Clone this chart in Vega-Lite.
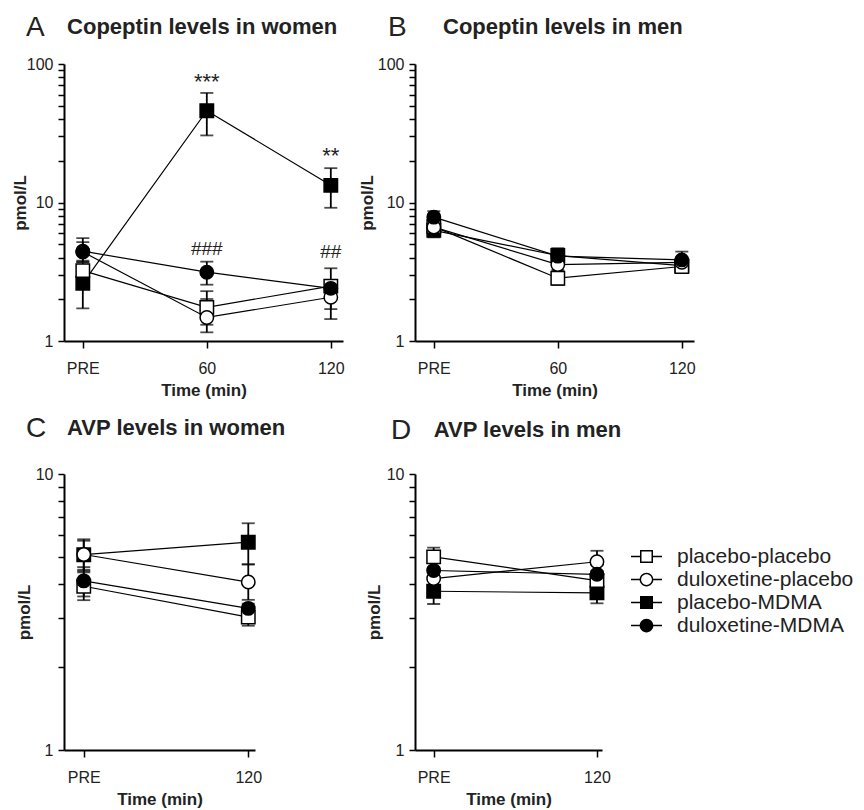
{
  "$schema": "https://vega.github.io/schema/vega-lite/v6.json",
  "background": "white",
  "padding": {"left": 11, "top": 14, "right": 5, "bottom": 5},
  "datasets": {
    "series": [
      {"panel": "A", "group": "placebo-MDMA", "time": 0, "value": 2.61, "lo": 1.72, "hi": 3.5},
      {"panel": "A", "group": "placebo-MDMA", "time": 60, "value": 46, "lo": 30.5, "hi": 61.8},
      {"panel": "A", "group": "placebo-MDMA", "time": 120, "value": 13.3, "lo": 9.16, "hi": 17.7},
      {"panel": "A", "group": "placebo-placebo", "time": 0, "value": 3.22, "lo": 2.8, "hi": 3.7},
      {"panel": "A", "group": "placebo-placebo", "time": 60, "value": 1.75, "lo": 1.31, "hi": 2.29},
      {"panel": "A", "group": "placebo-placebo", "time": 120, "value": 2.49, "lo": 1.7, "hi": 3.35},
      {"panel": "A", "group": "duloxetine-placebo", "time": 0, "value": 4.4, "lo": 3.8, "hi": 5.17},
      {"panel": "A", "group": "duloxetine-placebo", "time": 60, "value": 1.48, "lo": 1.155, "hi": 2.01},
      {"panel": "A", "group": "duloxetine-placebo", "time": 120, "value": 2.07, "lo": 1.44, "hi": 2.31},
      {"panel": "A", "group": "duloxetine-MDMA", "time": 0, "value": 4.45, "lo": 3.73, "hi": 5.53},
      {"panel": "A", "group": "duloxetine-MDMA", "time": 60, "value": 3.14, "lo": 2.55, "hi": 3.74},
      {"panel": "A", "group": "duloxetine-MDMA", "time": 120, "value": 2.4, "lo": 2.1, "hi": 2.75},
      {"panel": "B", "group": "placebo-MDMA", "time": 0, "value": 6.3, "lo": 5.6, "hi": 7.0},
      {"panel": "B", "group": "placebo-MDMA", "time": 60, "value": 4.14, "lo": 3.7, "hi": 4.68},
      {"panel": "B", "group": "placebo-MDMA", "time": 120, "value": 3.5, "lo": 3.22, "hi": 3.9},
      {"panel": "B", "group": "placebo-placebo", "time": 0, "value": 6.7, "lo": 6.1, "hi": 7.3},
      {"panel": "B", "group": "placebo-placebo", "time": 60, "value": 2.84, "lo": 2.54, "hi": 3.15},
      {"panel": "B", "group": "placebo-placebo", "time": 120, "value": 3.45, "lo": 3.2, "hi": 3.75},
      {"panel": "B", "group": "duloxetine-placebo", "time": 0, "value": 6.64, "lo": 6.0, "hi": 7.3},
      {"panel": "B", "group": "duloxetine-placebo", "time": 60, "value": 3.56, "lo": 3.25, "hi": 3.9},
      {"panel": "B", "group": "duloxetine-placebo", "time": 120, "value": 3.7, "lo": 3.4, "hi": 4.0},
      {"panel": "B", "group": "duloxetine-MDMA", "time": 0, "value": 7.84, "lo": 7.1, "hi": 8.66},
      {"panel": "B", "group": "duloxetine-MDMA", "time": 60, "value": 4.1, "lo": 3.75, "hi": 4.5},
      {"panel": "B", "group": "duloxetine-MDMA", "time": 120, "value": 3.85, "lo": 3.5, "hi": 4.42},
      {"panel": "C", "group": "placebo-MDMA", "time": 0, "value": 5.1, "lo": 4.45, "hi": 5.8},
      {"panel": "C", "group": "placebo-MDMA", "time": 120, "value": 5.66, "lo": 4.71, "hi": 6.63},
      {"panel": "C", "group": "placebo-placebo", "time": 0, "value": 3.92, "lo": 3.49, "hi": 4.4},
      {"panel": "C", "group": "placebo-placebo", "time": 120, "value": 3.03, "lo": 2.82, "hi": 3.26},
      {"panel": "C", "group": "duloxetine-placebo", "time": 0, "value": 5.11, "lo": 4.5, "hi": 5.73},
      {"panel": "C", "group": "duloxetine-placebo", "time": 120, "value": 4.06, "lo": 3.5, "hi": 4.7},
      {"panel": "C", "group": "duloxetine-MDMA", "time": 0, "value": 4.1, "lo": 3.6, "hi": 4.6},
      {"panel": "C", "group": "duloxetine-MDMA", "time": 120, "value": 3.26, "lo": 3.0, "hi": 3.39},
      {"panel": "D", "group": "placebo-MDMA", "time": 0, "value": 3.76, "lo": 3.38, "hi": 4.15},
      {"panel": "D", "group": "placebo-MDMA", "time": 120, "value": 3.71, "lo": 3.4, "hi": 4.05},
      {"panel": "D", "group": "placebo-placebo", "time": 0, "value": 5.01, "lo": 4.6, "hi": 5.41},
      {"panel": "D", "group": "placebo-placebo", "time": 120, "value": 4.11, "lo": 3.8, "hi": 4.45},
      {"panel": "D", "group": "duloxetine-placebo", "time": 0, "value": 4.18, "lo": 3.9, "hi": 4.5},
      {"panel": "D", "group": "duloxetine-placebo", "time": 120, "value": 4.81, "lo": 4.4, "hi": 5.27},
      {"panel": "D", "group": "duloxetine-MDMA", "time": 0, "value": 4.47, "lo": 4.1, "hi": 4.85},
      {"panel": "D", "group": "duloxetine-MDMA", "time": 120, "value": 4.33, "lo": 4.0, "hi": 4.7}
    ],
    "annot": [
      {"panel": "A", "time": 60, "value": 73.9, "label": "***", "kind": "star"},
      {"panel": "A", "time": 120, "value": 21.7, "label": "**", "kind": "star"},
      {"panel": "A", "time": 60, "value": 4.62, "label": "###", "kind": "hash"},
      {"panel": "A", "time": 120, "value": 4.36, "label": "##", "kind": "hash"}
    ]
  },
  "columns": 2,
  "align": "all",
  "bounds": "flush",
  "spacing": {"row": 133, "column": 72},
  "concat": [
    {
      "width": 279, "height": 277,
      "title": {"text": "A", "subtitle": "\u200b\u00a0\u00a0\u00a0\u00a0\u00a0\u00a0\u2009Copeptin levels in women", "anchor": "start", "frame": "group", "dx": -38, "offset": 14, "fontSize": 28, "fontWeight": "normal", "font": "Liberation Sans", "color": "#222", "subtitleFont": "Liberation Sans", "subtitleFontSize": 22, "subtitleFontWeight": "bold", "subtitleColor": "#222", "subtitlePadding": -25},
      "data": {"name": "series"},
      "transform": [{"filter": "datum.panel === 'A'"}],
      "encoding": {
        "x": {"field": "time", "type": "quantitative", "scale": {"domain": [-9.1, 125.9], "nice": false, "zero": false}, "axis": {"values": [0, 60, 120], "labelExpr": "datum.value === 0 ? 'PRE' : datum.label", "title": "Time (min)"}},
        "y": {"field": "value", "type": "quantitative", "scale": {"type": "log", "domain": [1, 100], "nice": false}, "axis": {"values": [1, 2, 3, 4, 5, 6, 7, 8, 9, 10, 20, 30, 40, 50, 60, 70, 80, 90, 100], "format": "d", "labelExpr": "(datum.value === 1 || datum.value === 10 || datum.value === 100) ? datum.label : ''", "title": "pmol/L", "titlePadding": -3}}
      },
      "layer": [
        {"mark": {"type": "line", "color": "black", "strokeWidth": 1.2}, "encoding": {"detail": {"field": "group"}}},
        {"mark": {"type": "rule", "color": "black", "strokeWidth": 1.8}, "encoding": {"y": {"field": "lo", "type": "quantitative", "scale": {"type": "log", "domain": [1, 100], "nice": false}, "axis": {"values": [1, 2, 3, 4, 5, 6, 7, 8, 9, 10, 20, 30, 40, 50, 60, 70, 80, 90, 100], "format": "d", "labelExpr": "(datum.value === 1 || datum.value === 10 || datum.value === 100) ? datum.label : ''", "title": "pmol/L", "titlePadding": -3}}, "y2": {"field": "hi"}}},
        {"mark": {"type": "tick", "orient": "horizontal", "color": "black", "size": 13, "thickness": 1.8}, "encoding": {"y": {"field": "lo", "type": "quantitative", "scale": {"type": "log", "domain": [1, 100], "nice": false}, "axis": {"values": [1, 2, 3, 4, 5, 6, 7, 8, 9, 10, 20, 30, 40, 50, 60, 70, 80, 90, 100], "format": "d", "labelExpr": "(datum.value === 1 || datum.value === 10 || datum.value === 100) ? datum.label : ''", "title": "pmol/L", "titlePadding": -3}}}},
        {"mark": {"type": "tick", "orient": "horizontal", "color": "black", "size": 13, "thickness": 1.8}, "encoding": {"y": {"field": "hi", "type": "quantitative", "scale": {"type": "log", "domain": [1, 100], "nice": false}, "axis": {"values": [1, 2, 3, 4, 5, 6, 7, 8, 9, 10, 20, 30, 40, 50, 60, 70, 80, 90, 100], "format": "d", "labelExpr": "(datum.value === 1 || datum.value === 10 || datum.value === 100) ? datum.label : ''", "title": "pmol/L", "titlePadding": -3}}}},
        {"transform": [{"filter": "indexof(datum.group, 'placebo-') === 0"}], "mark": {"type": "point", "shape": "square", "filled": true, "size": 180, "stroke": "black", "strokeWidth": 1.5, "opacity": 1}, "encoding": {"fill": {"condition": {"test": "indexof(datum.group, 'MDMA') > 0", "value": "black"}, "value": "white"}}},
        {"transform": [{"filter": "indexof(datum.group, 'duloxetine-') === 0"}], "mark": {"type": "point", "shape": "circle", "filled": true, "size": 180, "stroke": "black", "strokeWidth": 1.5, "opacity": 1}, "encoding": {"fill": {"condition": {"test": "indexof(datum.group, 'MDMA') > 0", "value": "black"}, "value": "white"}}},
        {"mark": {"type": "point", "filled": true, "color": "black", "size": 180, "opacity": 0},
         "encoding": {
           "shape": {"field": "group", "type": "nominal", "scale": {"domain": ["placebo-placebo", "duloxetine-placebo", "placebo-MDMA", "duloxetine-MDMA"], "range": [
             "M-1.24,-0.06H-0.52V0.06H-1.24ZM0.52,-0.06H1.24V0.06H0.52ZM-0.52,-0.52H0.52V0.52H-0.52ZM-0.4,-0.4V0.4H0.4V-0.4Z",
             "M-1.24,-0.06H-0.55V0.06H-1.24ZM0.55,-0.06H1.24V0.06H0.55ZM0.55,0A0.55,0.55,0,1,1,-0.55,0A0.55,0.55,0,1,1,0.55,0ZM0.43,0A0.43,0.43,0,1,0,-0.43,0A0.43,0.43,0,1,0,0.43,0Z",
             "M-1.24,-0.06H-0.52V0.06H-1.24ZM0.52,-0.06H1.24V0.06H0.52ZM-0.52,-0.52H0.52V0.52H-0.52Z",
             "M-1.24,-0.06H-0.55V0.06H-1.24ZM0.55,-0.06H1.24V0.06H0.55ZM0.55,0A0.55,0.55,0,1,1,-0.55,0A0.55,0.55,0,1,1,0.55,0Z"]},
             "legend": {"title": null, "orient": "none", "legendX": 570, "legendY": 480, "symbolSize": 625, "symbolStrokeWidth": 0, "symbolFillColor": "black", "symbolOpacity": 1, "labelFontSize": 21, "labelFont": "Liberation Sans", "labelColor": "#222", "labelOffset": 18, "rowPadding": 0, "padding": 0, "labelLimit": 400}}
         }},
        {"data": {"name": "annot"}, "transform": [{"filter": "datum.panel === 'A' && datum.kind === 'star'"}], "mark": {"type": "text", "font": "Liberation Sans", "fontSize": 22, "color": "#222", "baseline": "middle"}, "encoding": {"text": {"field": "label"}}},
        {"data": {"name": "annot"}, "transform": [{"filter": "datum.panel === 'A' && datum.kind === 'hash'"}], "mark": {"type": "text", "font": "Liberation Sans", "fontSize": 19, "color": "#222", "baseline": "middle"}, "encoding": {"text": {"field": "label"}}}
      ]
    },
    {
      "width": 279, "height": 277,
      "title": {"text": "B", "subtitle": "\u200b\u00a0\u00a0\u00a0\u00a0\u00a0\u00a0\u00a0\u00a0\u00a0Copeptin levels in men", "anchor": "start", "frame": "group", "dx": -27, "offset": 14, "fontSize": 28, "fontWeight": "normal", "font": "Liberation Sans", "color": "#222", "subtitleFont": "Liberation Sans", "subtitleFontSize": 22, "subtitleFontWeight": "bold", "subtitleColor": "#222", "subtitlePadding": -25},
      "data": {"name": "series"},
      "transform": [{"filter": "datum.panel === 'B'"}],
      "encoding": {
        "x": {"field": "time", "type": "quantitative", "scale": {"domain": [-9.1, 125.9], "nice": false, "zero": false}, "axis": {"values": [0, 60, 120], "labelExpr": "datum.value === 0 ? 'PRE' : datum.label", "title": "Time (min)"}},
        "y": {"field": "value", "type": "quantitative", "scale": {"type": "log", "domain": [1, 100], "nice": false}, "axis": {"values": [1, 2, 3, 4, 5, 6, 7, 8, 9, 10, 20, 30, 40, 50, 60, 70, 80, 90, 100], "format": "d", "labelExpr": "(datum.value === 1 || datum.value === 10 || datum.value === 100) ? datum.label : ''", "title": "pmol/L", "titlePadding": 1}}
      },
      "layer": [
        {"mark": {"type": "line", "color": "black", "strokeWidth": 1.2}, "encoding": {"detail": {"field": "group"}}},
        {"mark": {"type": "rule", "color": "black", "strokeWidth": 1.8}, "encoding": {"y": {"field": "lo", "type": "quantitative", "scale": {"type": "log", "domain": [1, 100], "nice": false}, "axis": {"values": [1, 2, 3, 4, 5, 6, 7, 8, 9, 10, 20, 30, 40, 50, 60, 70, 80, 90, 100], "format": "d", "labelExpr": "(datum.value === 1 || datum.value === 10 || datum.value === 100) ? datum.label : ''", "title": "pmol/L", "titlePadding": 1}}, "y2": {"field": "hi"}}},
        {"mark": {"type": "tick", "orient": "horizontal", "color": "black", "size": 13, "thickness": 1.8}, "encoding": {"y": {"field": "lo", "type": "quantitative", "scale": {"type": "log", "domain": [1, 100], "nice": false}, "axis": {"values": [1, 2, 3, 4, 5, 6, 7, 8, 9, 10, 20, 30, 40, 50, 60, 70, 80, 90, 100], "format": "d", "labelExpr": "(datum.value === 1 || datum.value === 10 || datum.value === 100) ? datum.label : ''", "title": "pmol/L", "titlePadding": 1}}}},
        {"mark": {"type": "tick", "orient": "horizontal", "color": "black", "size": 13, "thickness": 1.8}, "encoding": {"y": {"field": "hi", "type": "quantitative", "scale": {"type": "log", "domain": [1, 100], "nice": false}, "axis": {"values": [1, 2, 3, 4, 5, 6, 7, 8, 9, 10, 20, 30, 40, 50, 60, 70, 80, 90, 100], "format": "d", "labelExpr": "(datum.value === 1 || datum.value === 10 || datum.value === 100) ? datum.label : ''", "title": "pmol/L", "titlePadding": 1}}}},
        {"transform": [{"filter": "indexof(datum.group, 'placebo-') === 0"}], "mark": {"type": "point", "shape": "square", "filled": true, "size": 180, "stroke": "black", "strokeWidth": 1.5, "opacity": 1}, "encoding": {"fill": {"condition": {"test": "indexof(datum.group, 'MDMA') > 0", "value": "black"}, "value": "white"}}},
        {"transform": [{"filter": "indexof(datum.group, 'duloxetine-') === 0"}], "mark": {"type": "point", "shape": "circle", "filled": true, "size": 180, "stroke": "black", "strokeWidth": 1.5, "opacity": 1}, "encoding": {"fill": {"condition": {"test": "indexof(datum.group, 'MDMA') > 0", "value": "black"}, "value": "white"}}}
      ]
    },
    {
      "width": 191, "height": 276,
      "title": {"text": "C", "subtitle": "\u200b\u00a0\u00a0\u00a0\u00a0\u00a0\u00a0\u2009AVP levels in women", "anchor": "start", "frame": "group", "dx": -38, "offset": 23, "fontSize": 28, "fontWeight": "normal", "font": "Liberation Sans", "color": "#222", "subtitleFont": "Liberation Sans", "subtitleFontSize": 22, "subtitleFontWeight": "bold", "subtitleColor": "#222", "subtitlePadding": -25},
      "data": {"name": "series"},
      "transform": [{"filter": "datum.panel === 'C'"}],
      "encoding": {
        "x": {"field": "time", "type": "quantitative", "scale": {"domain": [-14.4, 124.9], "nice": false, "zero": false}, "axis": {"values": [0, 120], "labelExpr": "datum.value === 0 ? 'PRE' : datum.label", "title": "Time (min)"}},
        "y": {"field": "value", "type": "quantitative", "scale": {"type": "log", "domain": [1, 10], "nice": false}, "axis": {"values": [1, 2, 3, 4, 5, 6, 7, 8, 9, 10], "format": "d", "labelExpr": "(datum.value === 1 || datum.value === 10) ? datum.label : ''", "title": "pmol/L", "titlePadding": 2}}
      },
      "layer": [
        {"mark": {"type": "line", "color": "black", "strokeWidth": 1.2}, "encoding": {"detail": {"field": "group"}}},
        {"mark": {"type": "rule", "color": "black", "strokeWidth": 1.8}, "encoding": {"y": {"field": "lo", "type": "quantitative", "scale": {"type": "log", "domain": [1, 10], "nice": false}, "axis": {"values": [1, 2, 3, 4, 5, 6, 7, 8, 9, 10], "format": "d", "labelExpr": "(datum.value === 1 || datum.value === 10) ? datum.label : ''", "title": "pmol/L", "titlePadding": 2}}, "y2": {"field": "hi"}}},
        {"mark": {"type": "tick", "orient": "horizontal", "color": "black", "size": 13, "thickness": 1.8}, "encoding": {"y": {"field": "lo", "type": "quantitative", "scale": {"type": "log", "domain": [1, 10], "nice": false}, "axis": {"values": [1, 2, 3, 4, 5, 6, 7, 8, 9, 10], "format": "d", "labelExpr": "(datum.value === 1 || datum.value === 10) ? datum.label : ''", "title": "pmol/L", "titlePadding": 2}}}},
        {"mark": {"type": "tick", "orient": "horizontal", "color": "black", "size": 13, "thickness": 1.8}, "encoding": {"y": {"field": "hi", "type": "quantitative", "scale": {"type": "log", "domain": [1, 10], "nice": false}, "axis": {"values": [1, 2, 3, 4, 5, 6, 7, 8, 9, 10], "format": "d", "labelExpr": "(datum.value === 1 || datum.value === 10) ? datum.label : ''", "title": "pmol/L", "titlePadding": 2}}}},
        {"transform": [{"filter": "indexof(datum.group, 'placebo-') === 0"}], "mark": {"type": "point", "shape": "square", "filled": true, "size": 180, "stroke": "black", "strokeWidth": 1.5, "opacity": 1}, "encoding": {"fill": {"condition": {"test": "indexof(datum.group, 'MDMA') > 0", "value": "black"}, "value": "white"}}},
        {"transform": [{"filter": "indexof(datum.group, 'duloxetine-') === 0"}], "mark": {"type": "point", "shape": "circle", "filled": true, "size": 180, "stroke": "black", "strokeWidth": 1.5, "opacity": 1}, "encoding": {"fill": {"condition": {"test": "indexof(datum.group, 'MDMA') > 0", "value": "black"}, "value": "white"}}}
      ]
    },
    {
      "width": 187, "height": 276,
      "title": {"text": "D", "subtitle": "\u200b\u00a0\u00a0\u00a0\u00a0\u00a0\u00a0\u00a0AVP levels in men", "anchor": "start", "frame": "group", "dx": -24, "offset": 21, "fontSize": 28, "fontWeight": "normal", "font": "Liberation Sans", "color": "#222", "subtitleFont": "Liberation Sans", "subtitleFontSize": 22, "subtitleFontWeight": "bold", "subtitleColor": "#222", "subtitlePadding": -25},
      "data": {"name": "series"},
      "transform": [{"filter": "datum.panel === 'D'"}],
      "encoding": {
        "x": {"field": "time", "type": "quantitative", "scale": {"domain": [-13.7, 123.7], "nice": false, "zero": false}, "axis": {"values": [0, 120], "labelExpr": "datum.value === 0 ? 'PRE' : datum.label", "title": "Time (min)"}},
        "y": {"field": "value", "type": "quantitative", "scale": {"type": "log", "domain": [1, 10], "nice": false}, "axis": {"values": [1, 2, 3, 4, 5, 6, 7, 8, 9, 10], "format": "d", "labelExpr": "(datum.value === 1 || datum.value === 10) ? datum.label : ''", "title": "pmol/L", "titlePadding": 3}}
      },
      "layer": [
        {"mark": {"type": "line", "color": "black", "strokeWidth": 1.2}, "encoding": {"detail": {"field": "group"}}},
        {"mark": {"type": "rule", "color": "black", "strokeWidth": 1.8}, "encoding": {"y": {"field": "lo", "type": "quantitative", "scale": {"type": "log", "domain": [1, 10], "nice": false}, "axis": {"values": [1, 2, 3, 4, 5, 6, 7, 8, 9, 10], "format": "d", "labelExpr": "(datum.value === 1 || datum.value === 10) ? datum.label : ''", "title": "pmol/L", "titlePadding": 3}}, "y2": {"field": "hi"}}},
        {"mark": {"type": "tick", "orient": "horizontal", "color": "black", "size": 13, "thickness": 1.8}, "encoding": {"y": {"field": "lo", "type": "quantitative", "scale": {"type": "log", "domain": [1, 10], "nice": false}, "axis": {"values": [1, 2, 3, 4, 5, 6, 7, 8, 9, 10], "format": "d", "labelExpr": "(datum.value === 1 || datum.value === 10) ? datum.label : ''", "title": "pmol/L", "titlePadding": 3}}}},
        {"mark": {"type": "tick", "orient": "horizontal", "color": "black", "size": 13, "thickness": 1.8}, "encoding": {"y": {"field": "hi", "type": "quantitative", "scale": {"type": "log", "domain": [1, 10], "nice": false}, "axis": {"values": [1, 2, 3, 4, 5, 6, 7, 8, 9, 10], "format": "d", "labelExpr": "(datum.value === 1 || datum.value === 10) ? datum.label : ''", "title": "pmol/L", "titlePadding": 3}}}},
        {"transform": [{"filter": "indexof(datum.group, 'placebo-') === 0"}], "mark": {"type": "point", "shape": "square", "filled": true, "size": 180, "stroke": "black", "strokeWidth": 1.5, "opacity": 1}, "encoding": {"fill": {"condition": {"test": "indexof(datum.group, 'MDMA') > 0", "value": "black"}, "value": "white"}}},
        {"transform": [{"filter": "indexof(datum.group, 'duloxetine-') === 0"}], "mark": {"type": "point", "shape": "circle", "filled": true, "size": 180, "stroke": "black", "strokeWidth": 1.5, "opacity": 1}, "encoding": {"fill": {"condition": {"test": "indexof(datum.group, 'MDMA') > 0", "value": "black"}, "value": "white"}}}
      ]
    }
  ],
  "config": {
    "font": "Liberation Sans",
    "view": {"stroke": null},
    "axis": {"domainColor": "black", "domainWidth": 2, "tickColor": "black", "tickWidth": 1.5, "labelColor": "#222", "labelFont": "Liberation Sans", "labelFontSize": 16, "titleFont": "Liberation Sans", "titleFontSize": 17, "titleFontWeight": "bold", "titleColor": "#222", "grid": false, "labelFlush": false, "labelOverlap": false, "labelBound": false},
    "axisX": {"tickSize": 7, "labelPadding": 12, "titlePadding": 6},
    "axisY": {"tickSize": 6, "labelPadding": 5}
  }
}
